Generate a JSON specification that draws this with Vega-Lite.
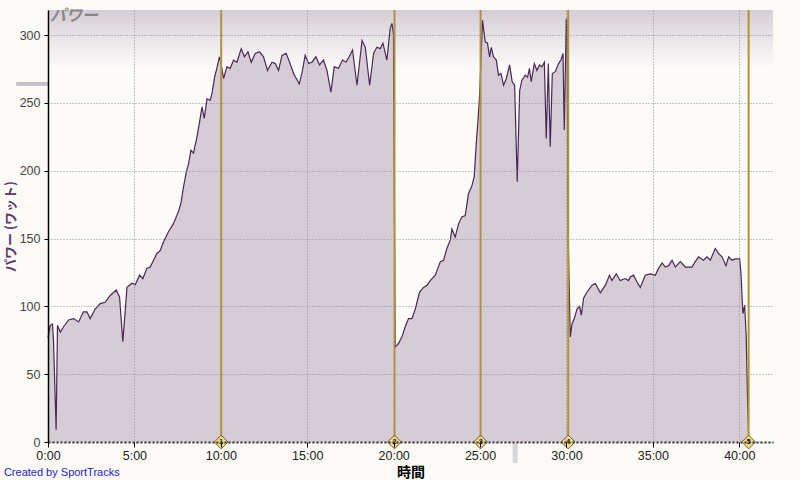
{
  "$schema": "https://vega.github.io/schema/vega-lite/v6.json",
  "width": 725,
  "height": 432,
  "autosize": {"type": "none"},
  "padding": {"left": 48, "top": 10, "right": 27, "bottom": 38},
  "background": "#FBFAF6",
  "config": {
    "view": {"stroke": null, "fill": "#FCFBF8"},
    "font": "Liberation Sans"
  },
  "datasets": {
    "power": [
      {"t":0,"p":77},{"t":0.13,"p":86},{"t":0.26,"p":87},{"t":0.32,"p":74},{"t":0.47,"p":9},{"t":0.55,"p":86},{"t":0.71,"p":81},{"t":0.9,"p":85},{"t":1.19,"p":90},{"t":1.48,"p":91},{"t":1.77,"p":88.5},{"t":2.05,"p":96},{"t":2.25,"p":96},{"t":2.44,"p":91},{"t":2.73,"p":98},{"t":3.02,"p":102},{"t":3.31,"p":103},{"t":3.6,"p":108},{"t":3.95,"p":112},{"t":4.14,"p":107},{"t":4.33,"p":74},{"t":4.57,"p":114},{"t":4.86,"p":117},{"t":5.05,"p":116},{"t":5.3,"p":123},{"t":5.49,"p":120.5},{"t":5.72,"p":128},{"t":5.91,"p":129},{"t":6.11,"p":134},{"t":6.3,"p":139},{"t":6.49,"p":141},{"t":6.68,"p":147.5},{"t":6.97,"p":155},{"t":7.26,"p":161},{"t":7.55,"p":170},{"t":7.69,"p":176},{"t":7.84,"p":188},{"t":8.0,"p":199},{"t":8.13,"p":205},{"t":8.27,"p":215},{"t":8.42,"p":213},{"t":8.62,"p":225},{"t":8.77,"p":236},{"t":8.91,"p":247},{"t":9.04,"p":238.6},{"t":9.2,"p":253},{"t":9.39,"p":252},{"t":9.49,"p":257},{"t":9.64,"p":269},{"t":9.77,"p":275.5},{"t":9.92,"p":284},{"t":10.01,"p":279},{"t":10.16,"p":268},{"t":10.35,"p":276.6},{"t":10.54,"p":275.5},{"t":10.74,"p":281.6},{"t":10.93,"p":280},{"t":11.18,"p":290},{"t":11.37,"p":284},{"t":11.57,"p":287.7},{"t":11.76,"p":280},{"t":11.99,"p":286.5},{"t":12.24,"p":287.7},{"t":12.47,"p":284},{"t":12.7,"p":274},{"t":12.96,"p":280},{"t":13.15,"p":279},{"t":13.34,"p":274},{"t":13.54,"p":285},{"t":13.78,"p":286.5},{"t":13.98,"p":280},{"t":14.21,"p":271.7},{"t":14.54,"p":264},{"t":14.69,"p":271.7},{"t":14.88,"p":285},{"t":15.08,"p":279},{"t":15.27,"p":280},{"t":15.5,"p":284},{"t":15.71,"p":278},{"t":15.94,"p":281.6},{"t":16.14,"p":274},{"t":16.37,"p":258},{"t":16.56,"p":276.6},{"t":16.81,"p":275.5},{"t":17.04,"p":281.6},{"t":17.24,"p":280},{"t":17.43,"p":284},{"t":17.62,"p":289},{"t":17.88,"p":263},{"t":18.17,"p":296},{"t":18.36,"p":291},{"t":18.61,"p":263},{"t":18.84,"p":286.5},{"t":19.03,"p":291},{"t":19.22,"p":290},{"t":19.38,"p":294},{"t":19.61,"p":281.6},{"t":19.8,"p":305},{"t":19.9,"p":308.6},{"t":19.99,"p":301},{"t":20.09,"p":70},{"t":20.28,"p":72.6},{"t":20.48,"p":77.5},{"t":20.67,"p":85},{"t":20.86,"p":91},{"t":21.06,"p":91},{"t":21.25,"p":98},{"t":21.5,"p":110.6},{"t":21.73,"p":114},{"t":21.93,"p":115.6},{"t":22.12,"p":119},{"t":22.41,"p":123},{"t":22.7,"p":133},{"t":22.89,"p":134},{"t":23.08,"p":142.7},{"t":23.28,"p":149},{"t":23.37,"p":157},{"t":23.56,"p":151},{"t":23.76,"p":161},{"t":23.95,"p":166},{"t":24.14,"p":167},{"t":24.33,"p":183},{"t":24.53,"p":189},{"t":24.66,"p":195.5},{"t":24.78,"p":220},{"t":24.88,"p":237},{"t":24.97,"p":254.5},{"t":25.14,"p":311},{"t":25.3,"p":295},{"t":25.43,"p":294},{"t":25.55,"p":284},{"t":25.65,"p":291},{"t":25.78,"p":284},{"t":25.94,"p":281.6},{"t":26.07,"p":270.5},{"t":26.21,"p":271.7},{"t":26.36,"p":263},{"t":26.52,"p":268},{"t":26.71,"p":278},{"t":26.86,"p":265.6},{"t":27.0,"p":263},{"t":27.15,"p":191.8},{"t":27.29,"p":259},{"t":27.42,"p":266.8},{"t":27.62,"p":270.5},{"t":27.75,"p":269},{"t":27.86,"p":275.5},{"t":27.96,"p":265.6},{"t":28.14,"p":279},{"t":28.29,"p":274},{"t":28.44,"p":278},{"t":28.58,"p":276.6},{"t":28.72,"p":280},{"t":28.83,"p":223.8},{"t":28.95,"p":279},{"t":29.06,"p":217.6},{"t":29.18,"p":271.7},{"t":29.35,"p":273},{"t":29.54,"p":279},{"t":29.68,"p":281.6},{"t":29.8,"p":286.5},{"t":29.87,"p":230},{"t":29.99,"p":312},{"t":30.03,"p":311},{"t":30.1,"p":150},{"t":30.22,"p":77.5},{"t":30.32,"p":87},{"t":30.45,"p":91},{"t":30.61,"p":98},{"t":30.76,"p":100},{"t":30.86,"p":93.5},{"t":30.99,"p":106},{"t":31.19,"p":110.6},{"t":31.48,"p":115.6},{"t":31.67,"p":116.8},{"t":31.96,"p":110},{"t":32.25,"p":115.6},{"t":32.49,"p":123},{"t":32.63,"p":119},{"t":32.88,"p":124},{"t":33.11,"p":119},{"t":33.4,"p":120.5},{"t":33.59,"p":119},{"t":33.69,"p":121.7},{"t":33.88,"p":123},{"t":34.08,"p":118},{"t":34.27,"p":114},{"t":34.56,"p":123},{"t":34.85,"p":124},{"t":35.14,"p":123},{"t":35.33,"p":128},{"t":35.53,"p":132},{"t":35.72,"p":129},{"t":35.91,"p":130},{"t":36.11,"p":134},{"t":36.3,"p":129},{"t":36.59,"p":133},{"t":36.88,"p":129},{"t":37.26,"p":129},{"t":37.45,"p":133},{"t":37.64,"p":136.5},{"t":37.93,"p":134},{"t":38.13,"p":136.5},{"t":38.32,"p":134},{"t":38.61,"p":142.7},{"t":38.8,"p":139},{"t":39.0,"p":136.5},{"t":39.23,"p":130},{"t":39.38,"p":136.5},{"t":39.58,"p":134},{"t":39.77,"p":135},{"t":40.02,"p":135},{"t":40.1,"p":124},{"t":40.16,"p":107},{"t":40.21,"p":94.7},{"t":40.31,"p":101},{"t":40.4,"p":77.5},{"t":40.48,"p":30.8},{"t":40.54,"p":3.7}
    ],
    "laps": [
      {"t":10.02,"lap":"1"},{"t":20.05,"lap":"2"},{"t":25.03,"lap":"3"},{"t":30.1,"lap":"4"},{"t":40.54,"lap":"5"}
    ],
    "one": [{}]
  },
  "layer": [
    {
      "data": {"name": "one"},
      "mark": {"type": "rect", "fill": {"gradient": "linear", "x1": 0, "y1": 0, "x2": 0, "y2": 1, "stops": [{"offset": 0, "color": "#D5CDD5"}, {"offset": 0.55, "color": "#EBE7EA"}, {"offset": 1, "color": "#FCFBF8"}]}},
      "encoding": {
        "y": {"datum": 318.5, "type": "quantitative", "scale": {"domain": [0, 318.5], "nice": false}},
        "y2": {"datum": 276}
      }
    },
    {
      "data": {"name": "power"},
      "mark": {"type": "area", "color": "#D6CCD6", "opacity": 1, "line": {"color": "#4A2856", "strokeWidth": 1.2}},
      "encoding": {
        "x": {
          "field": "t", "type": "quantitative",
          "scale": {"domain": [0, 41.95], "nice": false, "zero": false},
          "axis": {
            "title": "時間", "titleFontSize": 14, "titleFontWeight": "bold", "titleColor": "#000", "titleFont": "Noto Sans CJK JP", "titlePadding": 4,
            "values": [0, 5, 10, 15, 20, 25, 30, 35, 40],
            "labelExpr": "datum.value + ':00'", "labelFlush": false,
            "labelFontSize": 12.5, "labelColor": "#222", "labelPadding": 2,
            "tickColor": "#000", "tickSize": 5,
            "domainColor": "#333", "domainWidth": 2, "domainDash": [2, 2],
            "grid": true, "gridColor": "#8E8E8E", "gridDash": [1, 2], "gridWidth": 1,
            "zindex": 1
          }
        },
        "y": {
          "field": "p", "type": "quantitative",
          "scale": {"domain": [0, 318.5], "nice": false},
          "axis": {
            "title": "パワー (ワット)", "titleFontSize": 13, "titleFontWeight": "bold", "titleColor": "#5A3A6A", "titleFont": "Noto Sans CJK JP", "titlePadding": 2,
            "values": [0, 50, 100, 150, 200, 250, 300], "labelFlush": false,
            "labelFontSize": 12.5, "labelColor": "#444", "labelPadding": 4,
            "tickColor": "#000", "tickSize": 4,
            "domainColor": "#000", "domainWidth": 1.5,
            "grid": true, "gridColor": "#8E8E8E", "gridDash": [1, 2], "gridWidth": 1,
            "zindex": 1
          }
        }
      }
    },
    {
      "data": {"name": "laps"},
      "mark": {"type": "rule", "color": "#B39332", "strokeWidth": 2},
      "encoding": {"x": {"field": "t", "type": "quantitative"}}
    },
    {
      "data": {"name": "laps"},
      "mark": {"type": "point", "shape": "diamond", "filled": true, "fill": "#EEDC8C", "stroke": "#7A5E1E", "strokeWidth": 1, "size": 190, "opacity": 1},
      "encoding": {"x": {"field": "t", "type": "quantitative"}, "y": {"datum": 0}}
    },
    {
      "data": {"name": "laps"},
      "mark": {"type": "text", "fontSize": 7, "fontWeight": "bold", "color": "#000", "baseline": "middle", "align": "center"},
      "encoding": {"x": {"field": "t", "type": "quantitative"}, "y": {"datum": 0}, "text": {"field": "lap"}}
    },
    {
      "data": {"name": "one"},
      "mark": {"type": "text", "text": "パワー", "font": "Noto Sans CJK JP", "fontSize": 16, "fontWeight": "bold", "fontStyle": "italic", "color": "#8A868A", "align": "left", "baseline": "top", "dx": 2, "dy": -2},
      "encoding": {"x": {"datum": 0}, "y": {"datum": 318.5}}
    },
    {
      "data": {"name": "one"},
      "mark": {"type": "text", "text": "Created by SportTracks", "fontSize": 11, "color": "#2323C8", "align": "left", "baseline": "middle"},
      "encoding": {"x": {"datum": -2.55}, "y": {"datum": -22.5}}
    },
    {
      "data": {"name": "one"},
      "mark": {"type": "rule", "color": "#C9C1C7", "strokeWidth": 4},
      "encoding": {"x": {"datum": -1.84}, "x2": {"datum": 0}, "y": {"datum": 264}}
    },
    {
      "data": {"name": "one"},
      "mark": {"type": "rule", "color": "#D6D6D6", "strokeWidth": 5},
      "encoding": {"x": {"datum": 27.03}, "y": {"datum": -1}, "y2": {"datum": -15.5}}
    }
  ]
}
